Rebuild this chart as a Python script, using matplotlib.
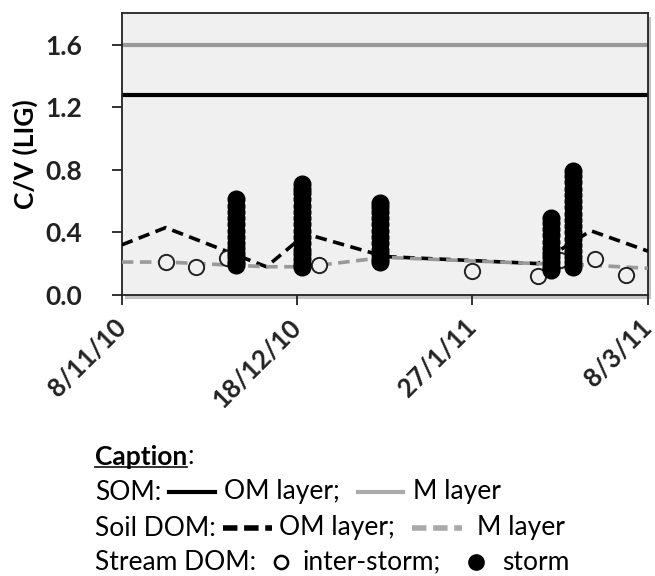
import numpy as np
import pandas as pd
import matplotlib
matplotlib.use('Agg')
import matplotlib.pyplot as plt
import matplotlib.transforms as mtransforms
import matplotlib.patheffects as pe
from matplotlib.lines import Line2D

plt.rcParams['font.family'] = ['Lato', 'DejaVu Sans']

# SOM (constant values)
som_om = 1.28
som_m = 1.60

# Soil DOM, OM layer (black dashed) and M layer (grey dashed)
soil_dates = ['2010-11-08', '2010-11-18', '2010-12-11', '2010-12-20',
              '2011-01-07', '2011-02-11', '2011-02-23', '2011-03-08']
soil_om = [0.32, 0.43, 0.18, 0.39, 0.245, 0.20, 0.41, 0.28]
soil_m = [0.21, 0.21, 0.18, 0.18, 0.24, 0.20, 0.19, 0.17]

# Stream DOM inter-storm samples
inter_dates = ['2010-11-18', '2010-11-25', '2010-12-02', '2010-12-23',
               '2011-01-27', '2011-02-11', '2011-02-16', '2011-02-24', '2011-03-03']
inter_vals = [0.21, 0.18, 0.235, 0.19, 0.15, 0.12, 0.225, 0.23, 0.13]

# Stream DOM storm samples (one list per event)
storm_dates = ['2010-12-04', '2010-12-19', '2011-01-06', '2011-02-14', '2011-02-19']
storm_vals = [
    [0.19, 0.21, 0.24, 0.27, 0.30, 0.33, 0.37, 0.41, 0.45, 0.49, 0.53, 0.57, 0.61],
    [0.18, 0.20, 0.23, 0.26, 0.29, 0.33, 0.37, 0.41, 0.45, 0.49, 0.53, 0.57, 0.61, 0.65, 0.68, 0.71],
    [0.21, 0.23, 0.26, 0.29, 0.33, 0.37, 0.41, 0.45, 0.49, 0.53, 0.56, 0.59],
    [0.16, 0.18, 0.21, 0.24, 0.27, 0.30, 0.34, 0.38, 0.42, 0.46, 0.49],
    [0.18, 0.21, 0.24, 0.28, 0.32, 0.36, 0.40, 0.44, 0.48, 0.52, 0.56, 0.60, 0.64, 0.68, 0.72, 0.76, 0.79],
]

xticks = ['2010-11-08', '2010-12-18', '2011-01-27', '2011-03-08']
xtick_labels = ['8/11/10', '18/12/10', '27/1/11', '8/3/11']
yticks = [0.0, 0.4, 0.8, 1.2, 1.6]

fig = plt.figure(figsize=(6.55, 5.76), dpi=100)
ax = fig.add_axes([0.186, 0.488, 0.803, 0.489])
ax.set_facecolor('#f0f0f0')
ax.patch.set_path_effects([pe.SimplePatchShadow(offset=(2, -3), shadow_rgbFace='#888888', alpha=0.5),
                           pe.Normal()])

ax.axhline(som_m, color='#999999', lw=3, zorder=2)
ax.axhline(som_om, color='black', lw=3, zorder=2)

sd = pd.to_datetime(soil_dates)
ax.plot(sd, soil_om, color='black', lw=2.6, dashes=(3.2, 1.8), zorder=3)
ax.plot(sd, soil_m, color='#999999', lw=2.6, dashes=(3.2, 1.8), zorder=3)

ax.plot(pd.to_datetime(inter_dates), inter_vals, 'o', ms=11, mfc='#f0f0f0',
        mec='#222222', mew=1.4, ls='none', zorder=4)

for d, vals in zip(storm_dates, storm_vals):
    ax.plot(pd.to_datetime([d] * len(vals)), vals, 'o', ms=12, color='black',
            ls='none', zorder=5)

ax.set_xlim(pd.Timestamp('2010-11-08'), pd.Timestamp('2011-03-08'))
ax.set_ylim(0, 1.8)
ax.set_yticks(yticks)
ax.set_yticklabels(['%.1f' % v for v in yticks], fontsize=19, fontweight='bold', color='#222222')
ax.set_xticks(pd.to_datetime(xticks))
ax.set_xticklabels(xtick_labels, rotation=45, ha='right', va='center', rotation_mode='anchor',
                   fontsize=18.5, fontweight='bold', color='#222222')
shift = mtransforms.ScaledTranslation(-4 / 100, 0, fig.dpi_scale_trans)
for lab in ax.get_xticklabels():
    lab.set_transform(lab.get_transform() + shift)
ax.tick_params(axis='both', direction='out', length=7.5, width=1.3, color='#222222')
ax.tick_params(axis='x', pad=13)
ax.tick_params(axis='y', pad=21)
for s in ax.spines.values():
    s.set_linewidth(1.3)
    s.set_color('#222222')

ax.set_ylabel('C/V (LIG)', fontsize=19, fontweight='bold')
ax.yaxis.set_label_coords(-0.16, 0.5)

# Caption block
fs = 19
def fy(py):
    return 1 - py / 576.0

def fx(px):
    return px / 655.0

cap = fig.text(fx(95), fy(457), 'Caption', fontsize=fs, fontweight='bold', va='center')
r = fig.canvas.get_renderer()
bb = cap.get_window_extent(r)
fig.text(bb.x1 / 655.0, fy(457), ':', fontsize=fs, va='center')
fig.add_artist(Line2D([fx(95), bb.x1 / 655.0], [fy(467), fy(467)], color='#222222', lw=1.3))

fig.text(fx(95), fy(492), 'SOM:', fontsize=fs, va='center')
fig.add_artist(Line2D([fx(169), fx(215)], [fy(492), fy(492)], color='black', lw=3))
fig.text(fx(224), fy(492), 'OM layer;', fontsize=fs, va='center')
fig.add_artist(Line2D([fx(358), fx(403)], [fy(492), fy(492)], color='#aaaaaa', lw=3))
fig.text(fx(413), fy(492), 'M layer', fontsize=fs, va='center')

fig.text(fx(95), fy(528), 'Soil DOM:', fontsize=fs, va='center')
fig.add_artist(Line2D([fx(223), fx(272)], [fy(528), fy(528)], color='black', lw=4, dashes=(2.6, 1.2)))
fig.text(fx(279), fy(528), 'OM layer;', fontsize=fs, va='center')
fig.add_artist(Line2D([fx(412), fx(462)], [fy(528), fy(528)], color='#aaaaaa', lw=4, dashes=(2.6, 1.2)))
fig.text(fx(477), fy(528), 'M layer', fontsize=fs, va='center')

fig.text(fx(95), fy(562), 'Stream DOM:', fontsize=fs, va='center')
fig.add_artist(Line2D([fx(281)], [fy(562)], marker='o', ms=9.5, mfc='white', mec='black', mew=1.8))
fig.text(fx(303), fy(562), 'inter-storm;', fontsize=fs, va='center')
fig.add_artist(Line2D([fx(476)], [fy(562)], marker='o', ms=11, color='black'))
fig.text(fx(502), fy(562), 'storm', fontsize=fs, va='center')

fig.savefig('out.png', dpi=100)
